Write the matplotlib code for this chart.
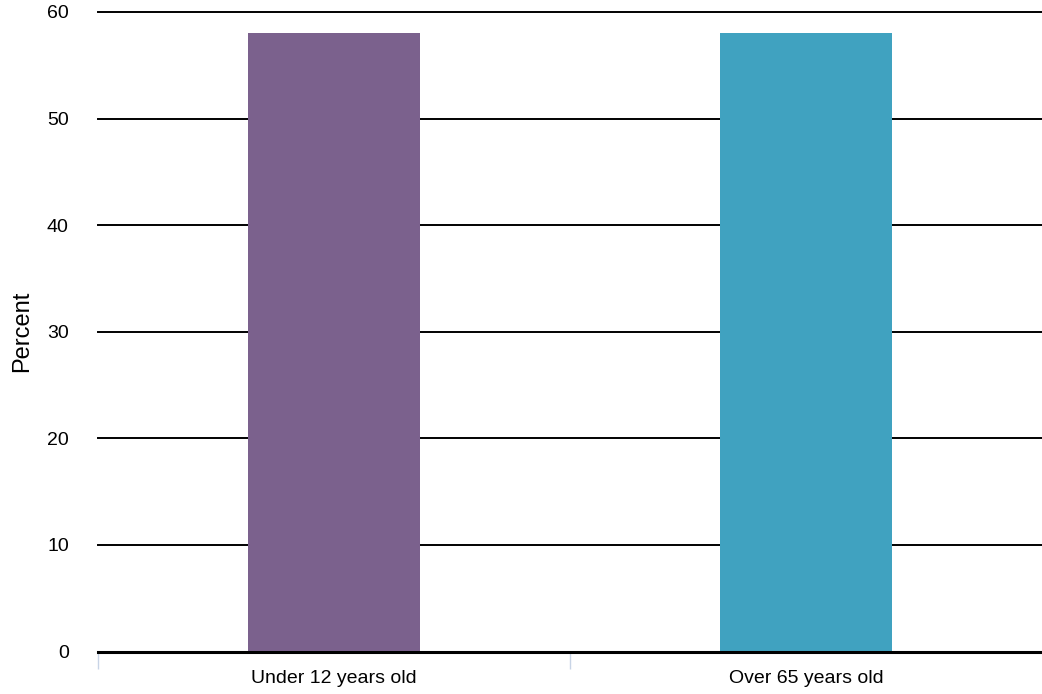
import matplotlib.pyplot as plt

plt.rcParams["font.family"] = ["Liberation Sans", "DejaVu Sans"]

groups = ["Under 12 years old", "Over 65 years old"]
percent = [58, 58]
colors = ["#7b618d", "#40a2c0"]
y_ticks = [0, 10, 20, 30, 40, 50, 60]

fig = plt.figure(figsize=(10.42, 6.94), dpi=100)
ax = fig.add_axes([98 / 1042, 1 - 651.5 / 694, (1042 - 98) / 1042, (651.5 - 12) / 694])

ax.bar(range(len(groups)), percent, width=0.366, color=colors, zorder=3)

ax.set_xlim(-0.5, len(groups) - 0.5)
ax.set_ylim(0, 60)
ax.set_yticks(y_ticks)
# gridlines drawn unclipped so the top one at 60 is not cut in half
for v in y_ticks[1:]:
    ax.axhline(v, color="black", linewidth=1.4, zorder=1, clip_on=False)
ax.axhline(0, color="black", linewidth=2.2, zorder=4, clip_on=False)

for side in ["top", "right", "left", "bottom"]:
    ax.spines[side].set_visible(False)

ax.tick_params(axis="y", length=0, pad=21, labelsize=14)
ax.set_xticks(range(len(groups)))
ax.set_xticklabels(groups)
ax.tick_params(axis="x", which="major", length=0, pad=13, labelsize=14)
ax.set_xticks([i - 0.5 for i in range(len(groups))], minor=True)
ax.tick_params(axis="x", which="minor", length=12, width=1, color="#c8d4e6")

ax.set_ylabel("Percent", fontsize=17, labelpad=10)

fig.savefig("out.png", dpi=100)
